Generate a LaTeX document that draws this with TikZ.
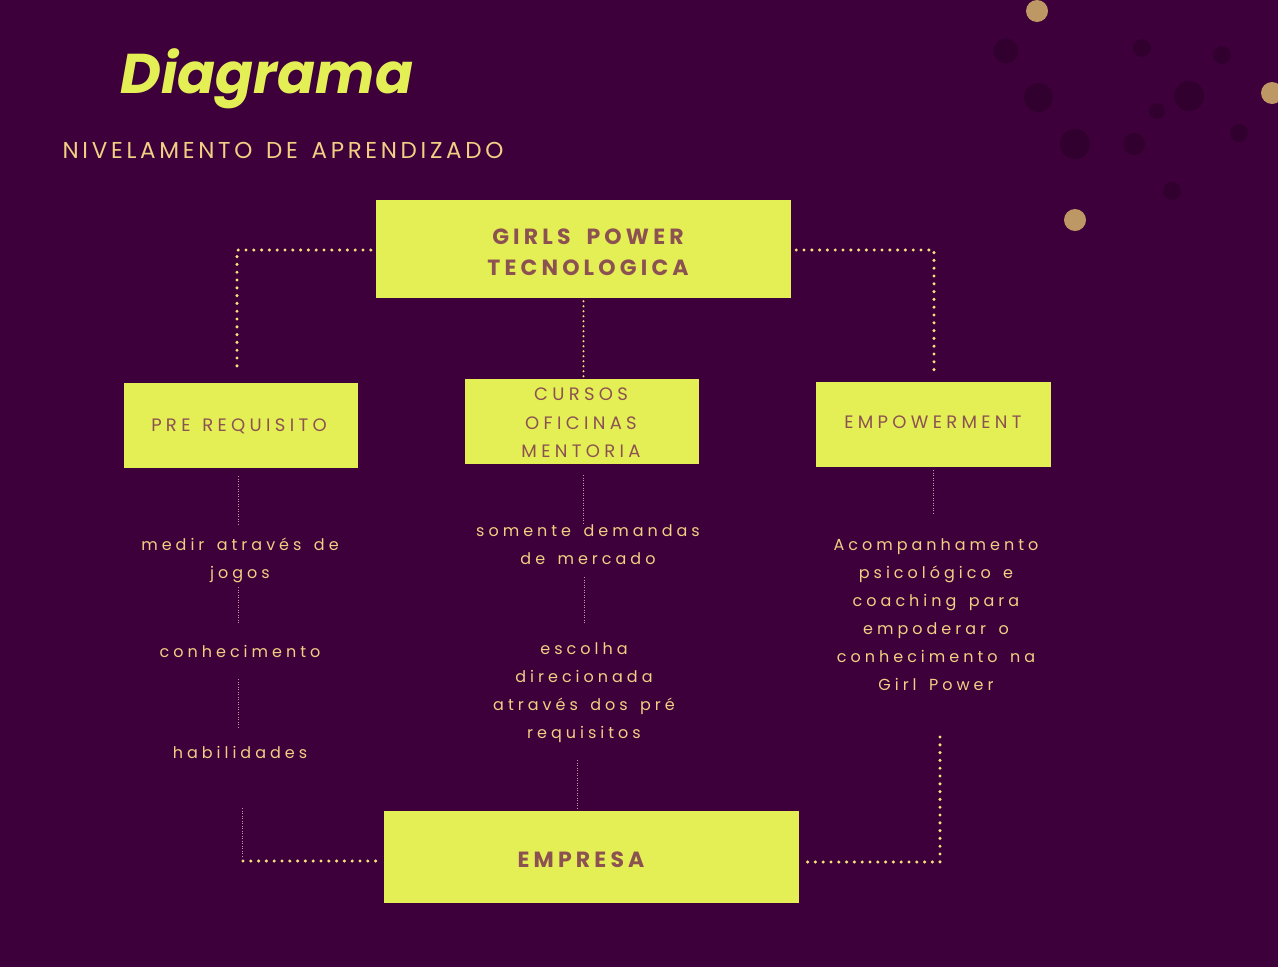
\documentclass[tikz,border=0pt]{standalone}
\usepackage{fontspec}
\setmainfont{Poppins}
\newfontfamily\lblfont[LetterSpace=25,WordSpace=1.5]{Poppins}
\newfontfamily\boxfont[LetterSpace=24,WordSpace=1.3]{Poppins}
\newfontfamily\boldfont[LetterSpace=19,WordSpace=1.8]{Poppins}
\newfontfamily\bigfont[LetterSpace=16,WordSpace=1.4]{Poppins}
\definecolor{bg}{RGB}{61,0,59}
\definecolor{darkdot}{RGB}{49,0,47}
\definecolor{golddot}{RGB}{190,152,100}
\definecolor{lime}{RGB}{228,239,85}
\definecolor{boxtxt}{RGB}{140,82,82}
\definecolor{labeltxt}{RGB}{240,208,130}
\definecolor{thickdot}{RGB}{244,226,125}
\definecolor{thindot}{RGB}{200,150,160}
\tikzset{
  box/.style={fill=lime, draw=none, minimum width=#1, inner sep=0pt, align=center, text=boxtxt},
  lbl/.style={text=labeltxt, align=center, font=\lblfont\fontsize{16}{28}\selectfont, inner sep=0pt},
  boxlabel/.style={text=boxtxt, align=center, inner sep=0pt},
  thick dots/.style={draw=thickdot, line width=3.4pt, line cap=round, dash pattern=on 0pt off 7.8pt},
  mid dots/.style={draw=thickdot, line width=2.2pt, line cap=round, dash pattern=on 0pt off 5pt},
  thin dots/.style={draw=thindot, line width=0.9pt, dash pattern=on 1pt off 1.5pt},
}
\begin{document}
\begin{tikzpicture}[x=1pt,y=-1pt]
\fill[bg] (0,0) rectangle (1278,967);
\useasboundingbox (0,0) rectangle (1278,967);
% decorative circles
\foreach \x/\y/\r in {1006/51/12.5,1038.5/97.5/14.5,1075/144/15,1142/48/9,1222/55/9,1189/96/15,1157/111/8,1134/144/11,1239/133/9,1172/191/9}
  \fill[darkdot] (\x,\y) circle (\r);
\foreach \x/\y/\r in {1037/11/11,1272/93/11,1075/220/11}
  \fill[golddot] (\x,\y) circle (\r);
% titles
\node[text=lime, font=\fontsize{56}{56}\selectfont\bfseries\itshape, anchor=center] (title) at (267,79) {Diagrama};
\node[text=labeltxt, font=\bigfont\fontsize{23}{26}\selectfont, anchor=center] (subtitle) at (283,150) {NIVELAMENTO DE APRENDIZADO};
% boxes
\node[box=415pt, minimum height=98pt] (top) at (583.5,249) {};
\node[boxlabel, font=\boldfont\bfseries\fontsize{22}{31}\selectfont] (toptext) at (588,252) {GIRLS POWER\\TECNOLOGICA};
\node[box=234pt, minimum height=85pt] (pre) at (241,425.5) {};
\node[boxlabel, font=\boxfont\fontsize{18}{28}\selectfont] (pretext) at (239,426) {PRE REQUISITO};
\node[box=234pt, minimum height=85pt] (cur) at (582,421.5) {};
\node[boxlabel, font=\boxfont\fontsize{18}{28.5}\selectfont] (curtext) at (581,423) {CURSOS\\OFICINAS\\MENTORIA};
\node[box=235pt, minimum height=85pt] (emp) at (933.5,424.5) {};
\node[boxlabel, font=\boxfont\fontsize{18}{28}\selectfont] (emptext) at (933,422) {EMPOWERMENT};
\node[box=415pt, minimum height=92pt] (empresa) at (591.5,857) {};
\node[boxlabel, font=\boldfont\bfseries\fontsize{22}{24}\selectfont] (empresatext) at (581,860) {EMPRESA};
% labels
\node[lbl] (l1) at (240,560) {medir através de\\jogos};
\node[lbl] (l2) at (240,651) {conhecimento};
\node[lbl] (l3) at (240,752) {habilidades};
\node[lbl] (m1) at (588,545) {somente demandas\\de mercado};
\node[lbl] (m2) at (584,693) {escolha\\direcionada\\através dos pré\\requisitos};
\node[lbl] (r1) at (936,615) {Acompanhamento\\psicológico e\\coaching para\\empoderar o\\conhecimento na\\Girl Power};
% coordinates for connector ends
\coordinate (tl) at (237,372);
\coordinate (tr) at (934,374);
\coordinate (bl) at (242,808);
\coordinate (br) at (940,737);
% thick connectors from top
\draw[thick dots] ([xshift=-5pt,yshift=-1pt]top.west) -| (tl);
\draw[thick dots] ([xshift=5pt,yshift=-1pt]top.east) -| (tr);
\draw[mid dots] ([yshift=2pt]top.south) -- ([yshift=-1pt]top.south |- cur.north);
% thin connectors
\draw[thin dots] (238,476) -- (238,524);
\draw[thin dots] (238,587) -- (238,624);
\draw[thin dots] (238,679) -- (238,727);
\draw[thin dots] (583,475) -- (583,524);
\draw[thin dots] (584,577) -- (584,623);
\draw[thin dots] (577,760) -- (577,808);
\draw[thin dots] (933,470) -- (933,514);
% bottom
\draw[thin dots] (bl) -- (242,858);
\draw[thick dots] (243,861) -- ([xshift=-3pt]empresa.west |- 0,861);
\draw[thick dots] (br) |- ([xshift=3pt]empresa.east |- 0,862);
\end{tikzpicture}
\end{document}
